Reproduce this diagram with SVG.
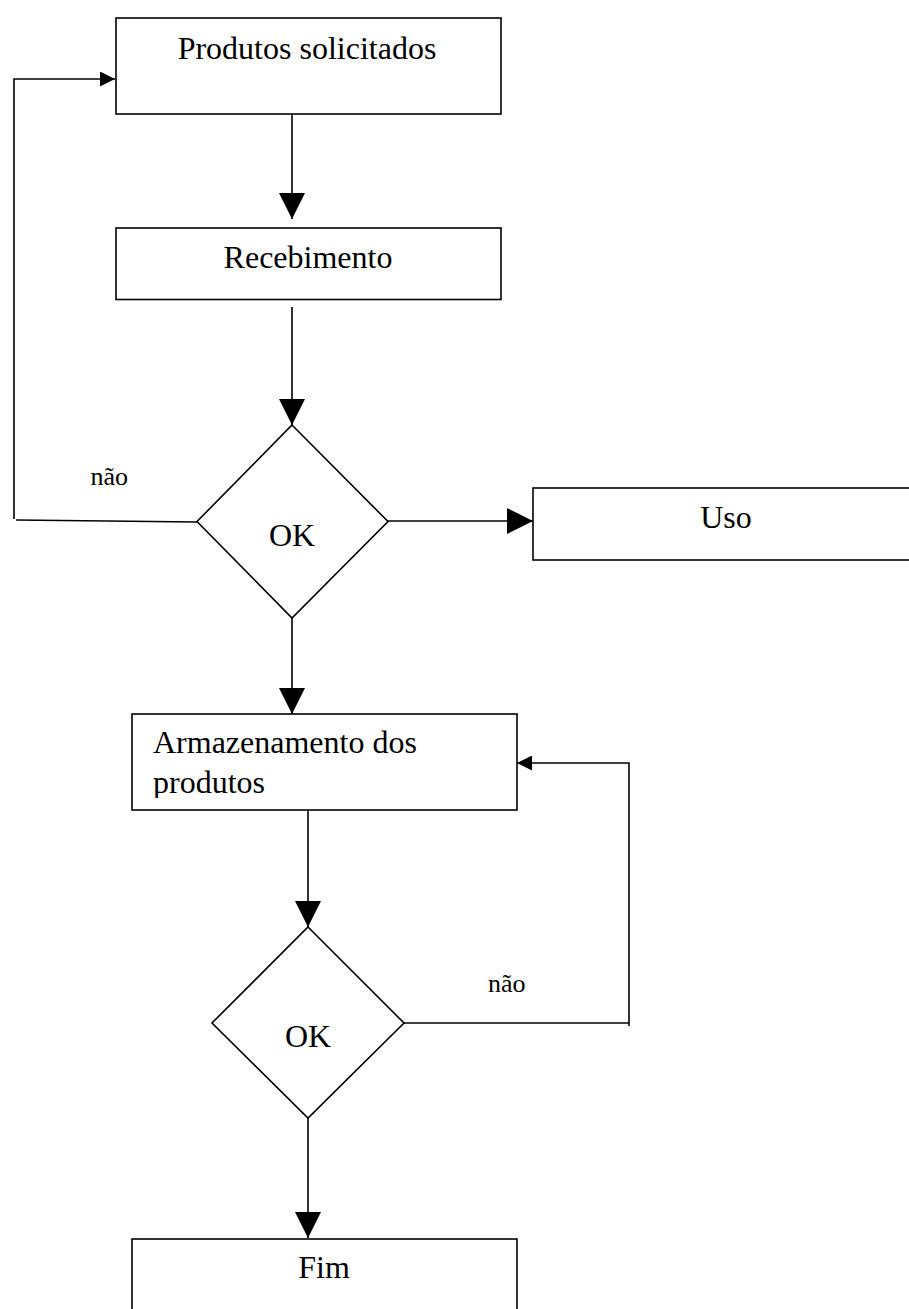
<svg xmlns="http://www.w3.org/2000/svg" width="909" height="1309" viewBox="0 0 909 1309">
<style>
.box{fill:#fff;stroke:#000;stroke-width:1.6}
.dia{fill:#fff;stroke:#000;stroke-width:1.6}
.lbl{font-family:"Liberation Serif","Times New Roman",serif;font-size:32px;fill:#000}
.sm{font-family:"Liberation Serif","Times New Roman",serif;font-size:26px;fill:#000}
.con{fill:none;stroke:#000;stroke-width:1.6}
</style>
<defs>
<marker id="big" markerUnits="userSpaceOnUse" markerWidth="26" markerHeight="26" viewBox="0 0 26 26" refX="26" refY="13" orient="auto">
<path d="M0,0 L26,13 L0,26 Z" fill="#000"/>
</marker>
<marker id="small" markerUnits="userSpaceOnUse" markerWidth="15" markerHeight="15" viewBox="0 0 15 15" refX="15" refY="7.5" orient="auto">
<path d="M0,0 L15,7.5 L0,15 Z" fill="#000"/>
</marker>
<clipPath id="clip3"><rect x="132" y="714" width="385" height="84"/></clipPath>
</defs>
<rect width="909" height="1309" fill="#fff"/>
<g id="connectors">
<path class="con" d="M292,114 V219" marker-end="url(#big)"/>
<path class="con" d="M197,522 L16,520 M14,519 V79 H115" marker-end="url(#small)"/>
<path class="con" d="M292,307 V425" marker-end="url(#big)"/>
<path class="con" d="M388,521 H533" marker-end="url(#big)"/>
<path class="con" d="M292,618 V714" marker-end="url(#big)"/>
<path class="con" d="M308,807 V927" marker-end="url(#big)"/>
<path class="con" d="M404,1023 H629 M629,1026 V763 H517" marker-end="url(#small)"/>
<path class="con" d="M308,1118 V1238" marker-end="url(#big)"/>
</g>
<g id="n1">
<rect class="box" x="116" y="18" width="385" height="96"/>
<text class="lbl" x="307" y="59" text-anchor="middle">Produtos solicitados</text>
</g>
<g id="n2">
<rect class="box" x="116" y="228" width="385" height="71.5"/>
<text class="lbl" x="308" y="268" text-anchor="middle">Recebimento</text>
</g>
<g id="d1">
<polygon class="dia" points="292,425 388,521.5 292,618 197,521.5"/>
<text class="lbl" x="292" y="546" text-anchor="middle">OK</text>
</g>
<g id="n_uso">
<rect class="box" x="533" y="488" width="400" height="72"/>
<text class="lbl" x="726" y="528" text-anchor="middle">Uso</text>
</g>
<g id="n3">
<rect class="box" x="132" y="714" width="385" height="96"/>
<g clip-path="url(#clip3)">
<text class="lbl" x="153" y="753">Armazenamento dos</text>
<text class="lbl" x="153" y="793">produtos</text>
</g>
</g>
<g id="d2">
<polygon class="dia" points="308,927 404,1023 308,1118 212,1023"/>
<text class="lbl" x="308" y="1047" text-anchor="middle">OK</text>
</g>
<g id="n_fim">
<rect class="box" x="132" y="1239" width="385" height="100"/>
<text class="lbl" x="324" y="1278" text-anchor="middle">Fim</text>
</g>
<g id="labels">
<text class="sm" x="90.5" y="485">não</text>
<text class="sm" x="488" y="992">não</text>
</g>
</svg>
